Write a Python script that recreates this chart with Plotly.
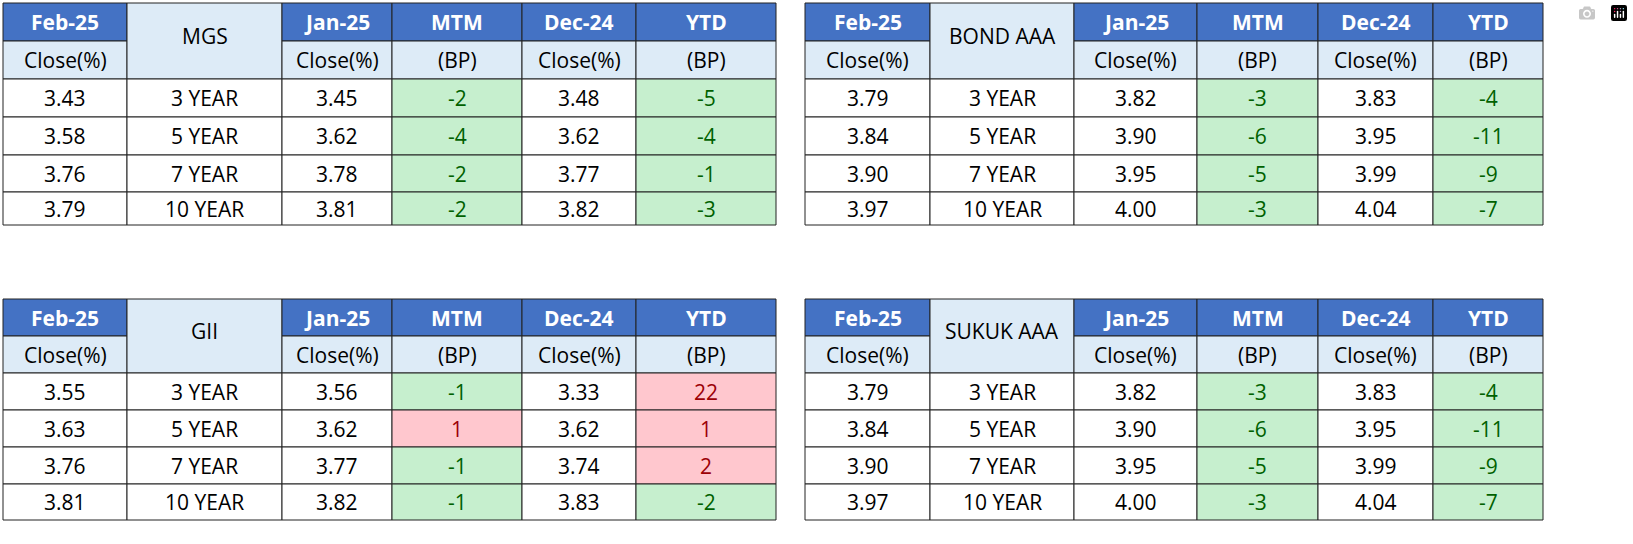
import plotly.graph_objects as go

titles = ["MGS", "BOND AAA", "GII", "SUKUK AAA"]
tenors = ["3 YEAR", "5 YEAR", "7 YEAR", "10 YEAR"]
feb25 = [[3.43, 3.58, 3.76, 3.79], [3.79, 3.84, 3.90, 3.97], [3.55, 3.63, 3.76, 3.81], [3.79, 3.84, 3.90, 3.97]]
jan25 = [[3.45, 3.62, 3.78, 3.81], [3.82, 3.90, 3.95, 4.00], [3.56, 3.62, 3.77, 3.82], [3.82, 3.90, 3.95, 4.00]]
mtm = [[-2, -4, -2, -2], [-3, -6, -5, -3], [-1, 1, -1, -1], [-3, -6, -5, -3]]
dec24 = [[3.48, 3.62, 3.77, 3.82], [3.83, 3.95, 3.99, 4.04], [3.33, 3.62, 3.74, 3.83], [3.83, 3.95, 3.99, 4.04]]
ytd = [[-5, -4, -1, -3], [-4, -11, -9, -7], [22, 1, 2, -2], [-4, -11, -9, -7]]
head1 = ["Feb-25", None, "Jan-25", "MTM", "Dec-24", "YTD"]
head2 = ["Close(%)", None, "Close(%)", "(BP)", "Close(%)", "(BP)"]

colsA = [3, 127, 282, 392, 522, 636, 776]
colsB = [805, 930, 1074, 1197, 1318, 1433, 1543]
rowsTop = [3, 41, 79, 117, 155, 192, 225]
rowsBot = [299, 336, 373, 410, 447, 484, 520]
layouts = [(colsA, rowsTop), (colsB, rowsTop), (colsA, rowsBot), (colsB, rowsBot)]

BLUE = "#4472C4"; LIGHT = "#DDEBF7"
GF, GT = "#C6EFCE", "#006100"
RF, RT = "#FFC7CE", "#9C0006"
FONT = "Open Sans"

shapes, ann = [], []
def rect(x0, y0, x1, y1, fill):
    shapes.append(dict(type="rect", xref="x", yref="y", x0=x0, x1=x1, y0=y0, y1=y1,
                       fillcolor=fill, line=dict(color="#222", width=1), layer="below"))
def text(x, y, s, color="black", bold=False, size=21):
    ann.append(dict(x=x, y=y, xref="x", yref="y", text=f"<b>{s}</b>" if bold else s,
                    showarrow=False, font=dict(family=FONT, size=size, color=color)))

for t, (cx, ry) in enumerate(layouts):
    for c in range(6):
        xm = (cx[c] + cx[c+1]) / 2
        if c == 1:
            rect(cx[c], ry[0], cx[c+1], ry[2], LIGHT)
            text(xm, (ry[0] + ry[2]) / 2 - 5, titles[t])
        else:
            rect(cx[c], ry[0], cx[c+1], ry[1], BLUE)
            text(xm, (ry[0] + ry[1]) / 2, head1[c], "white", True, 21)
            rect(cx[c], ry[1], cx[c+1], ry[2], LIGHT)
            text(xm, (ry[1] + ry[2]) / 2, head2[c])
    for r in range(4):
        y0, y1 = ry[r+2], ry[r+3]
        ym = (y0 + y1) / 2
        vals = [f"{feb25[t][r]:.2f}", tenors[r], f"{jan25[t][r]:.2f}", mtm[t][r], f"{dec24[t][r]:.2f}", ytd[t][r]]
        for c in range(6):
            xm = (cx[c] + cx[c+1]) / 2
            v = vals[c]
            if c in (3, 5):
                fill, col = (GF, GT) if v < 0 else (RF, RT)
                rect(cx[c], y0, cx[c+1], y1, fill)
                text(xm, ym, str(v), col)
            else:
                rect(cx[c], y0, cx[c+1], y1, "white")
                text(xm, ym, v)

fig = go.Figure()
fig.update_layout(width=1633, height=544, margin=dict(l=0, r=0, t=0, b=0),
                  paper_bgcolor="white", plot_bgcolor="white",
                  xaxis=dict(range=[0, 1633], visible=False, fixedrange=True),
                  yaxis=dict(range=[544, 0], visible=False, fixedrange=True),
                  shapes=shapes, annotations=ann, showlegend=False)
fig.write_html("out.html", post_script="document.body.style.margin='0px';document.body.style.overflow='hidden';")
